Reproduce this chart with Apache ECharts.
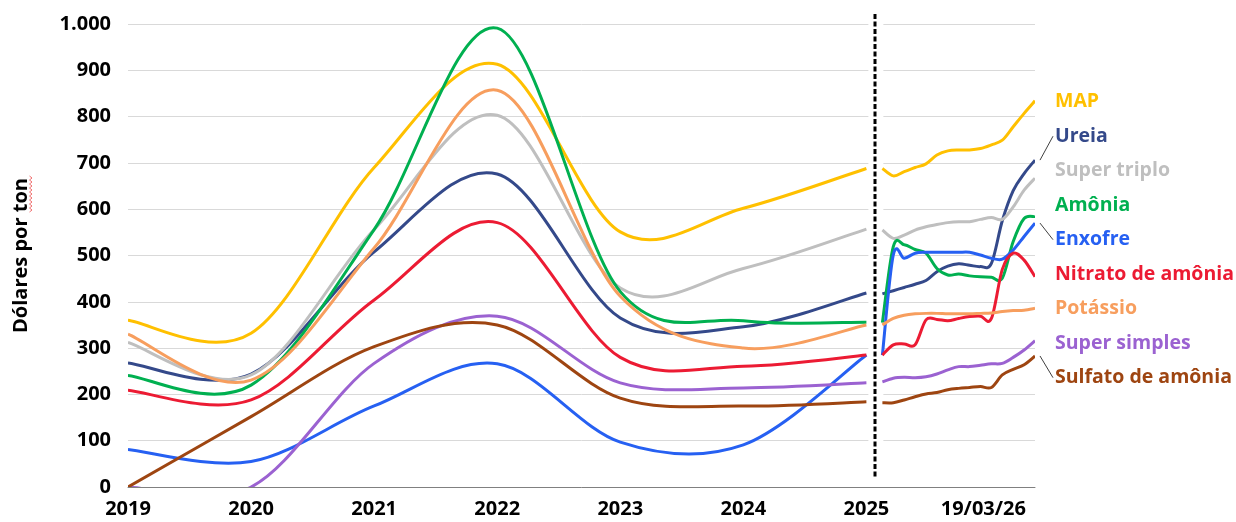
<!DOCTYPE html>
<html>
<head>
<meta charset="utf-8">
<script src="https://cdn.jsdelivr.net/npm/echarts@6/dist/echarts.min.js"></script>
<style>
html, body { margin: 0; padding: 0; background: #fff; }
#grafico { width: 1236px; height: 522px; }
</style>
</head>
<body>
<div id="grafico"></div>
<script>
/* Preços de fertilizantes - médias anuais + período recente */

var years = [2019, 2020, 2021, 2022, 2023, 2024, 2025];
var recentStart = 2025.13;   // início do trecho recente (depois da linha tracejada)
var recentEnd = 2026.37;
var splitAt = 2025.07;       // linha tracejada
var recentLabel = '19/03/26';
var recentLabelAt = 2025.95;

var mapAnnual = [360, 332, 690, 913, 551, 602, 688];
var mapRecent = [688, 672, 681, 690, 698, 717, 726, 728, 728, 731, 739, 749, 778, 807, 834];

var ureiaAnnual = [268, 244, 508, 676, 365, 346, 419];
var ureiaRecent = [417, 424, 431, 438, 446, 465, 477, 482, 479, 476, 483, 575, 640, 677, 706];

var superTriploAnnual = [312, 242, 556, 803, 430, 472, 557];
var superTriploRecent = [555, 537, 544, 555, 562, 567, 571, 573, 573, 578, 582, 578, 605, 641, 667];

var amoniaAnnual = [241, 220, 556, 991, 422, 359, 356];
var amoniaRecent = [355, 519, 523, 513, 505, 472, 458, 460, 456, 454, 453, 451, 530, 580, 584];

var enxofreAnnual = [81, 55, 175, 266, 97, 91, 285];
var enxofreRecent = [285, 501, 494, 505, 507, 507, 507, 507, 507, 501, 494, 492, 512, 541, 570];

var nitratoAnnual = [209, 188, 404, 571, 280, 261, 285];
var nitratoRecent = [285, 307, 309, 307, 361, 362, 359, 364, 368, 369, 364, 470, 505, 490, 454];

var potassioAnnual = [330, 231, 516, 857, 412, 300, 350];
var potassioRecent = [350, 364, 371, 374, 375, 375, 374, 374, 374, 375, 376, 379, 381, 382, 386];

var superSimplesAnnual = [0, 0, 267, 369, 225, 214, 225];
var superSimplesRecent = [227, 235, 237, 236, 238, 244, 253, 260, 260, 263, 266, 267, 280, 296, 316];

var sulfatoAnnual = [0, 152, 303, 350, 192, 175, 184];
var sulfatoRecent = [182, 182, 188, 195, 201, 204, 210, 213, 215, 217, 215, 242, 254, 264, 283];

var nomes = ['MAP', 'Ureia', 'Super triplo', 'Amônia', 'Enxofre',
             'Nitrato de amônia', 'Potássio', 'Super simples', 'Sulfato de amônia'];
var cores = ['#FFC000', '#34498A', '#BFBFBF', '#00B050', '#2660F2',
             '#EC1B33', '#F79E5E', '#9B62D1', '#9E4511'];
var anuais = [mapAnnual, ureiaAnnual, superTriploAnnual, amoniaAnnual, enxofreAnnual,
              nitratoAnnual, potassioAnnual, superSimplesAnnual, sulfatoAnnual];
var recentes = [mapRecent, ureiaRecent, superTriploRecent, amoniaRecent, enxofreRecent,
                nitratoRecent, potassioRecent, superSimplesRecent, sulfatoRecent];
var comGuia = ['Ureia', 'Enxofre', 'Sulfato de amônia'];

var fonte = "'Open Sans', sans-serif";
var labelX = 1055, labelTop = 101.7, labelStep = 34.5;

function trechoRecente(recente) {
    var pts = [];
    var passo = (recentEnd - recentStart) / (recente.length - 1);
    for (var j = 0; j < recente.length; j++) {
        pts.push([recentStart + j * passo, recente[j]]);
    }
    return pts;
}

function trechoAnual(anual) {
    return years.map(function (y, i) { return [y, anual[i]]; });
}

// curva suave tipo Excel (Catmull-Rom) em coordenadas de pixel
function caminho(p) {
    var d = 'M' + p[0][0] + ' ' + p[0][1];
    for (var i = 0; i < p.length - 1; i++) {
        var a = p[i - 1] || p[i];
        var b = p[i];
        var c = p[i + 1];
        var e = p[i + 2] || c;
        var c1x = b[0] + (c[0] - a[0]) / 6, c1y = b[1] + (c[1] - a[1]) / 6;
        var c2x = c[0] - (e[0] - b[0]) / 6, c2y = c[1] - (e[1] - b[1]) / 6;
        d += 'C' + c1x + ' ' + c1y + ' ' + c2x + ' ' + c2y + ' ' + c[0] + ' ' + c[1];
    }
    return d;
}

function serie(nome, k) {
    var anual = trechoAnual(anuais[k]);
    var recente = trechoRecente(recentes[k]);
    return {
        name: nome,
        type: 'custom',
        data: [anual[0]],
        encode: { x: 0, y: 1 },
        renderItem: function (params, api) {
            var cs = params.coordSys;
            var pa = anual.map(function (v) { return api.coord(v); });
            var pr = recente.map(function (v) { return api.coord(v); });
            var fim = pr[pr.length - 1];
            var ly = labelTop + k * labelStep;
            var filhos = [{
                type: 'path',
                shape: { pathData: caminho(pa) + caminho(pr) },
                style: { stroke: cores[k], lineWidth: 3, fill: null, lineJoin: 'round' },
                clipPath: { type: 'rect', shape: { x: cs.x, y: cs.y - 20, width: cs.width, height: cs.height + 20 } }
            }, {
                type: 'text',
                x: labelX, y: ly,
                style: {
                    text: nome, fill: cores[k],
                    font: "bold 19.5px 'Open Sans', sans-serif",
                    align: 'left', verticalAlign: 'middle'
                }
            }];
            if (comGuia.indexOf(nome) >= 0) {
                filhos.push({
                    type: 'line',
                    shape: { x1: fim[0] + 5, y1: fim[1], x2: labelX - 2, y2: ly },
                    style: { stroke: '#404040', lineWidth: 1 }
                });
            }
            return { type: 'group', children: filhos };
        }
    };
}

var dom = document.getElementById('grafico');
var myChart = echarts.init(dom);

var option = {
    animation: false,
    backgroundColor: '#fff',
    grid: { left: 128, right: 201, top: 24, bottom: 35, outerBoundsMode: 'none' },
    xAxis: {
        type: 'value',
        min: 2019,
        max: recentEnd,
        splitLine: { show: false },
        axisTick: { show: false },
        axisLine: { show: true, lineStyle: { color: '#808080', width: 1 } },
        axisLabel: {
            customValues: years.concat([recentLabelAt]),
            margin: 12,
            color: '#000',
            fontFamily: fonte,
            fontWeight: 'bold',
            fontSize: 20,
            formatter: function (v) {
                return v > 2025.5 ? recentLabel : String(v);
            }
        }
    },
    yAxis: {
        type: 'value',
        min: 0,
        max: 1000,
        interval: 100,
        name: 'Dólares por ton',
        nameLocation: 'middle',
        nameGap: 97,
        nameMoveOverlap: false,
        nameTextStyle: { color: '#000', fontFamily: fonte, fontWeight: 'bold', fontSize: 20 },
        axisLine: { show: false },
        axisTick: { show: false },
        splitLine: { lineStyle: { color: '#D9D9D9', width: 1 } },
        axisLabel: {
            margin: 17,
            color: '#000',
            fontFamily: fonte,
            fontWeight: 'bold',
            fontSize: 20,
            formatter: function (v) {
                return String(v).replace(/\B(?=(\d{3})+(?!\d))/g, '.');
            }
        }
    },
    series: nomes.map(serie)
};

myChart.setOption(option, true);

/* faixa branca da quebra e linha tracejada */
var gx0 = myChart.convertToPixel({ xAxisIndex: 0 }, 2025.016);
var gx1 = myChart.convertToPixel({ xAxisIndex: 0 }, 2025.138);
var yTopo = myChart.convertToPixel({ yAxisIndex: 0 }, 1000);
var yBase = myChart.convertToPixel({ yAxisIndex: 0 }, 0);
var xTrac = Math.round(myChart.convertToPixel({ xAxisIndex: 0 }, splitAt));

var graficos = [];
graficos.push({
    type: 'rect', z: 1,
    shape: { x: gx0, y: yTopo - 2, width: gx1 - gx0, height: yBase - yTopo + 1 },
    style: { fill: '#fff' }
});
graficos.push({
    type: 'line', z: 5,
    shape: { x1: xTrac, y1: yTopo - 10, x2: xTrac, y2: yBase - 10 },
    style: { stroke: '#000', lineWidth: 3, lineDash: [5, 2.5] }
});
/* sublinhado do corretor ortográfico sob "ton" */
var onda = [];
for (var s = 0; s <= 18; s++) {
    onda.push([s % 2 === 0 ? 29.5 : 32, 176 + s * 2]);
}
graficos.push({
    type: 'polyline', z: 5,
    shape: { points: onda },
    style: { stroke: '#F07070', lineWidth: 1, fill: null }
});

myChart.setOption({ graphic: graficos });
</script>
</body>
</html>
